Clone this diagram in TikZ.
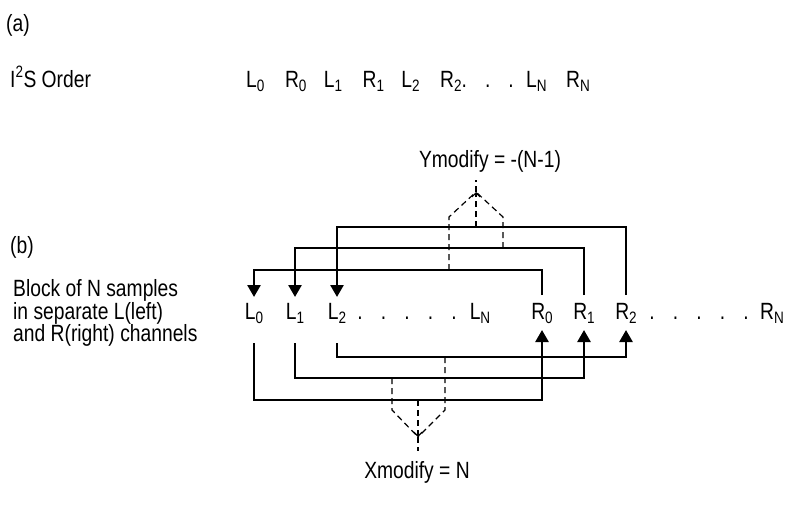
\documentclass[tikz,border=0pt]{standalone}
\usepackage{fontspec}
\setmainfont{Liberation Sans}[FakeStretch=0.82]
\usetikzlibrary{arrows.meta}
\newcommand{\idx}[1]{\raisebox{-4.5pt}{\fontsize{16.5}{16}\selectfont#1}}
\newcommand{\slot}[3][38.8pt]{\makebox[#1][l]{#2\idx{#3}}}
\tikzset{
	every node/.style={font=\fontsize{23.5}{32}\selectfont, inner sep=0pt},
	chan/.style={anchor=base},
	link/.style={line width=2.6pt, -{Triangle[length=12pt,width=13pt]}},
	guide/.style={line width=1.2pt, dash pattern=on 6pt off 4pt},
	hint/.style={guide, -{Straight Barb[length=4pt,width=8pt]}}
}
\begin{document}
\begin{tikzpicture}[x=1pt,y=-1pt]
	\useasboundingbox (0,0) rectangle (786,506);

	% (a) interleaved I2S stream
	\node[anchor=base west] (parta) at (6,31) {(a)};
	\node[anchor=base west] (i2s) at (10,87) {I\textsuperscript{2}S Order};
	\node[anchor=base west] (order) at (246,87) {\slot{L}{0}\slot{R}{0}\slot{L}{1}\slot{R}{1}\slot{L}{2}\makebox[86pt][l]{R\idx{2}.\hspace{18pt}.\hspace{18pt}.}\slot[40pt]{L}{N}R\idx{N}};

	% (b) block split into channels
	\node[anchor=base west] (partb) at (10,253) {(b)};
	\node[anchor=west, align=left, font=\fontsize{23.5}{21}\selectfont] (block) at (13,313) {Block of N samples\\in separate L(left)\\and R(right) channels};

	\node[chan] (l0) at (254,319) {L\idx{0}};
	\node[chan] (l1) at (295,319) {L\idx{1}};
	\node[chan] (l2) at (337,319) {L\idx{2}};
	\foreach \x [count=\k] in {360,383.5,407,430.5,454}
		\node[chan] (ldot\k) at (\x,319) {.};
	\node[chan] (lN) at (480,319) {L\idx{N}};
	\node[chan] (r0) at (542,319) {R\idx{0}};
	\node[chan] (r1) at (584,319) {R\idx{1}};
	\node[chan] (r2) at (626,319) {R\idx{2}};
	\foreach \x [count=\k] in {652,675.5,699,722.5,746}
		\node[chan] (rdot\k) at (\x,319) {.};
	\node[chan] (rN) at (772,319) {R\idx{N}};

	% R samples moved back onto the L slots
	\foreach \i/\y in {0/270,1/248,2/227}
		\draw[link] (r\i.center |- 0,295) |- (l\i.center |- 0,\y) -- (l\i.center |- 0,297);
	% L samples moved forward onto the R slots
	\foreach \i/\y in {0/400,1/378,2/357}
		\draw[link] (l\i.center |- 0,343) |- (r\i.center |- 0,\y) -- (r\i.center |- 0,330);

	% Y step
	\node[chan] (ymod) at (490,167) {Ymodify = -(N-1)};
	\coordinate (yapex) at (476,192);
	\draw[guide] (449,270) -- (449,217) -- (yapex);
	\draw[guide] (503,248) -- (503,217) -- (yapex);
	\draw[hint] (476,227) -- (yapex);
	\draw[guide] (yapex) -- (476,180);

	% X step
	\node[chan] (xmod) at (417,478) {Xmodify = N};
	\coordinate (xapex) at (418,437);
	\draw[guide] (392,378) -- (392,410) -- (xapex);
	\draw[guide] (445,357) -- (445,410) -- (xapex);
	\draw[hint] (418,400) -- (xapex);
	\draw[guide] (xapex) -- (418,451);
\end{tikzpicture}
\end{document}
